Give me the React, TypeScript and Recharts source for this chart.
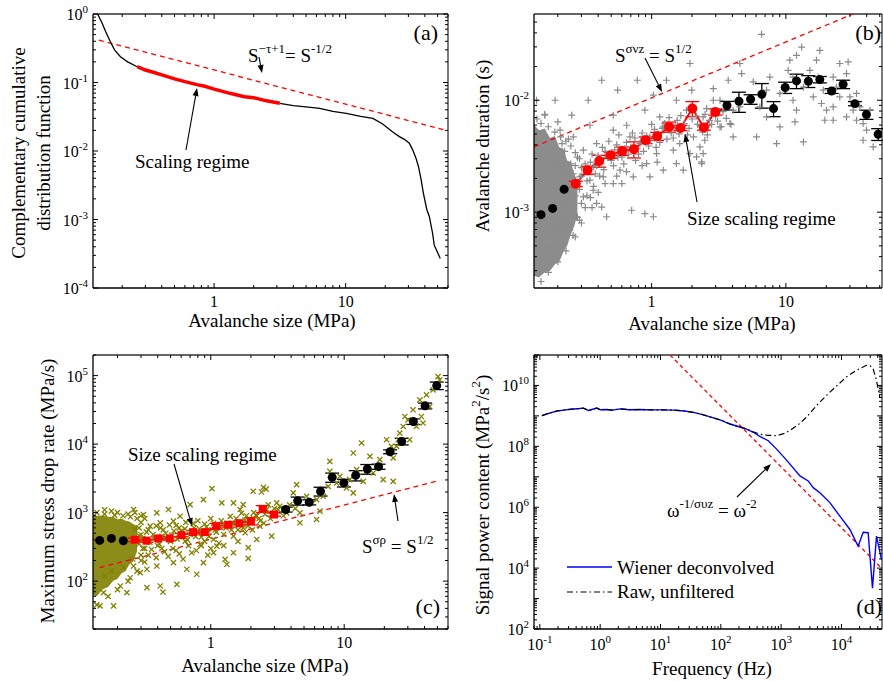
import React from 'react';
import { ComposedChart, Line, Scatter, Area, XAxis, YAxis, ErrorBar, ReferenceLine } from 'recharts';

const FONT = 'Times New Roman, Times, Liberation Serif, serif';

// ---------- (a) complementary cumulative distribution ----------
const ccdfHeadX = [0.13, 0.14, 0.15, 0.163, 0.175, 0.194, 0.22, 0.26];
const ccdfHeadY = [1.0, 0.75, 0.55, 0.39, 0.3, 0.238, 0.2, 0.17];
const ccdfScaleX = [0.26, 0.3, 0.35, 0.4, 0.5, 0.6, 0.74, 0.85, 1.0, 1.32, 1.7, 2.0, 2.5, 3.16];
const ccdfScaleY = [0.17, 0.152, 0.14, 0.129, 0.113, 0.103, 0.093, 0.088, 0.08, 0.0695, 0.062, 0.06, 0.054, 0.0497];
const ccdfTailX = [3.16, 4, 5, 6.35, 8, 10.1, 13, 16.1, 19, 22.8, 25.6, 28, 30.5, 32.4, 34.3, 35.8, 37.5, 39, 41.4, 43.3, 45.8, 47.2, 50, 52.4];
const ccdfTailY = [0.0497, 0.046, 0.044, 0.042, 0.038, 0.0355, 0.032, 0.03, 0.025, 0.019, 0.0162, 0.0148, 0.013, 0.0103, 0.0078, 0.0059, 0.0038, 0.0024, 0.0014, 0.0011, 6.3e-4, 4.2e-4, 3.3e-4, 2.7e-4];
const fitAX = [0.133, 59];
const fitAY = [0.417, 0.0199];

// ---------- (b) avalanche duration ----------
const scaleBX = [0.272, 0.333, 0.407, 0.495, 0.604, 0.738, 0.902, 1.1, 1.35, 1.64, 2.01, 2.45, 2.98];
const scaleBY = [1.79e-3, 2.37e-3, 2.87e-3, 3.23e-3, 3.52e-3, 3.65e-3, 4.4e-3, 4.77e-3, 5.78e-3, 5.66e-3, 8.43e-3, 5.7e-3, 7.87e-3];
const scaleBErr = [1e-4, 2e-4, 3.5e-4, 2e-4, 3e-4, 6e-4, 3e-4, 4e-4, 6e-4, 3e-4, 1.3e-3, 3e-4, 5e-4];
const binBX = [0.15, 0.183, 0.223, 3.64, 4.47, 5.46, 6.62, 8.09, 9.88, 12.0, 14.7, 17.9, 21.9, 26.7, 32.7, 39.8, 48.7];
const binBY = [9.5e-4, 1.08e-3, 1.6e-3, 8.97e-3, 9.8e-3, 1.02e-2, 1.13e-2, 8.43e-3, 1.3e-2, 1.49e-2, 1.48e-2, 1.53e-2, 1.21e-2, 1.39e-2, 9.33e-3, 7.45e-3, 4.97e-3];
const binBErr = [0, 0, 0, 8e-4, 2e-3, 1e-3, 2.8e-3, 1.3e-3, 1.5e-3, 2.2e-3, 1.8e-3, 1e-3, 6e-4, 1.2e-3, 4e-4, 7e-4, 6e-4];
const fitBX = [0.133, 52];
const fitBY = [3.83e-3, 0.0757];
const blobBX = [0.133, 0.145, 0.16, 0.175, 0.19, 0.205, 0.22, 0.235, 0.25, 0.265, 0.28];
const blobBLo = [2.7e-4, 2.6e-4, 2.9e-4, 3.0e-4, 3.4e-4, 3.6e-4, 4.4e-4, 5.0e-4, 6.3e-4, 7.5e-4, 9.5e-4];
const blobBHi = [6.0e-3, 5.4e-3, 5.6e-3, 4.6e-3, 4.8e-3, 3.8e-3, 3.7e-3, 2.9e-3, 2.8e-3, 2.2e-3, 1.9e-3];
const crossBLow = [
  [0.425, 0.0151], [0.782, 0.0151], [0.558, 0.0123], [1.29, 0.0151], [1.93, 0.0213], [1.03, 0.0111], [1.99, 0.0123], [0.337, 0.01], [0.191, 0.01], [0.139, 0.01],
  [0.16, 0.00735], [0.254, 0.00735], [0.518, 0.00735], [0.891, 0.00815], [1.53, 0.01], [1.82, 0.00815], [0.347, 0.00598], [0.652, 0.00598], [1.15, 0.0071], [2.42, 0.0071],
  [0.69, 0.0047], [1.62, 0.0041], [2.29, 0.00383], [2.36, 0.00281], [0.71, 0.00104], [0.891, 0.00097], [1.03, 0.00091], [0.425, 0.00111], [0.367, 0.00157], [0.518, 0.0018],
  [1.22, 0.00237], [1.53, 0.00272], [0.918, 0.00272], [0.581, 0.00237], [0.436, 0.00207], [0.31, 0.00137], [0.276, 0.00091], [0.246, 0.00069], [0.22, 0.00053], [0.196, 0.0004],
  [0.147, 0.0003], [0.971, 0.0047], [1.22, 0.00578], [0.49, 0.00312], [0.367, 0.00254], [0.31, 0.00358], [0.389, 0.0041], [0.261, 0.0047], [0.208, 0.0054], [0.615, 0.00358],
  [0.818, 0.0041], [1.45, 0.00358], [1.93, 0.00334], [1.09, 0.00334], [0.518, 0.0054], [0.73, 0.00207], [0.971, 0.00207], [1.72, 0.00237], [2.16, 0.00312], [2.57, 0.00578],
  [0.462, 0.00091], [0.389, 0.0012], [0.347, 0.00193], [0.292, 0.00207],
  [0.3, 0.0025], [0.35, 0.0028], [0.4, 0.0032], [0.45, 0.0035], [0.5, 0.0029], [0.55, 0.004], [0.6, 0.0031], [0.65, 0.0042], [0.7, 0.0038], [0.75, 0.0046],
  [0.8, 0.0033], [0.85, 0.0051], [0.95, 0.0039], [1.05, 0.0055], [1.15, 0.0042], [1.25, 0.0062], [1.4, 0.0051], [1.55, 0.0066], [1.7, 0.0058], [1.85, 0.0049],
  [2.0, 0.0068], [2.2, 0.0061], [2.4, 0.0052], [2.7, 0.0066], [3.0, 0.0072], [3.4, 0.0079], [0.28, 0.0031], [0.33, 0.0019], [0.38, 0.0022], [0.42, 0.0027],
  [0.27, 0.0014], [0.3, 0.0012],
  [0.14, 0.0068], [0.15, 0.0062], [0.17, 0.0058], [0.19, 0.0052], [0.21, 0.0047], [0.23, 0.0043], [0.25, 0.0039], [0.27, 0.0034], [0.29, 0.003], [0.16, 0.0075],
  [0.2, 0.0064], [0.15, 2.4e-4], [0.17, 2.9e-4], [0.2, 3.6e-4], [0.23, 4.5e-4], [0.26, 6.2e-4], [0.29, 8.5e-4], [0.32, 1.1e-3], [0.35, 1.35e-3],
];
const crossBMid = [
  [0.26, 0.0022], [0.28, 0.0018], [0.3, 0.0021], [0.32, 0.0027], [0.34, 0.0024], [0.36, 0.0033], [0.37, 0.0017], [0.39, 0.0026], [0.41, 0.0021], [0.43, 0.0038],
  [0.44, 0.0024], [0.47, 0.0031], [0.48, 0.0043], [0.52, 0.0026], [0.53, 0.0036], [0.56, 0.0031], [0.57, 0.0049], [0.62, 0.0027], [0.63, 0.0037], [0.67, 0.0033],
  [0.72, 0.0051], [0.76, 0.0029], [0.78, 0.0037], [0.83, 0.0043], [0.87, 0.0035], [0.92, 0.0048], [0.98, 0.0044], [1.0, 0.0061], [1.08, 0.0038], [1.12, 0.005],
  [1.2, 0.0056], [1.3, 0.0045], [1.35, 0.007], [1.45, 0.0046], [1.5, 0.0058], [1.6, 0.005], [1.65, 0.0073], [1.75, 0.0062], [1.9, 0.0056], [2.05, 0.0047],
  [2.15, 0.0072], [2.3, 0.0058], [2.5, 0.0075], [2.6, 0.0049], [2.8, 0.0061], [3.1, 0.0065], [3.3, 0.0058], [3.6, 0.0069], [3.9, 0.0061], [0.24, 0.0013],
  [0.26, 0.0011], [0.28, 0.0009], [0.33, 0.0014], [0.36, 0.0011], [0.4, 0.0015], [0.45, 0.0018], [0.55, 0.0021], [0.6, 0.0018], [0.65, 0.0023], [0.85, 0.0026],
  [1.1, 0.0028], [0.2, 0.0029], [0.22, 0.0024], [0.24, 0.0021], [0.21, 0.0011], [0.23, 0.0008], [0.25, 0.0017], [0.19, 0.0007], [0.17, 0.0005],
  [0.27, 0.0026], [0.29, 0.0016], [0.3, 0.0008], [0.27, 0.0006], [0.25, 0.0027], [0.225, 0.0035], [0.215, 0.0041], [0.24, 0.0045],
];
const crossBHigh = [
  [6.59, 0.0388], [4.54, 0.0213], [4.68, 0.0173], [3.72, 0.0151], [2.88, 0.0127], [2.88, 0.01], [2.57, 0.00843], [3.23, 0.01], [4.05, 0.00815], [4.3, 0.01],
  [4.54, 0.00871], [3.83, 0.00619], [3.23, 0.00578], [4.05, 0.0047], [6.05, 0.0047], [5.71, 0.0146], [7.18, 0.0123], [7.6, 0.0161], [6.4, 0.00871], [7.18, 0.0071],
  [9.02, 0.0115], [9.02, 0.00578], [8.53, 0.0041], [10.7, 0.0228], [10.4, 0.0185], [11.3, 0.0161], [13.1, 0.0299], [12.0, 0.0252], [13.5, 0.0131], [11.3, 0.01],
  [12.0, 0.00815], [11.7, 0.0064], [13.5, 0.00424], [15.1, 0.0185], [16.9, 0.0228], [17.9, 0.0279], [17.4, 0.0161], [19.0, 0.0123], [16.0, 0.0107], [18.4, 0.00935],
  [20.1, 0.00815], [22.5, 0.0161], [25.2, 0.0213], [29.1, 0.022], [28.3, 0.0173], [23.8, 0.0131], [25.2, 0.0107], [22.5, 0.00871], [28.3, 0.0071], [30.0, 0.0107],
  [33.6, 0.0115], [31.7, 0.00815], [35.6, 0.00871], [33.6, 0.00663], [37.6, 0.00619], [39.9, 0.0054], [37.6, 0.00439], [44.7, 0.00383], [42.3, 0.00815], [22.5, 0.00663],
  [19.5, 0.00663], [2.42, 0.00334], [2.36, 0.00272], [2.49, 0.00439],
];

// ---------- (c) maximum stress drop rate ----------
const scaleCX = [0.27, 0.33, 0.404, 0.493, 0.603, 0.738, 0.902, 1.1, 1.35, 1.64, 2.0, 2.45, 2.98];
const scaleCY = [402, 389, 420, 420, 469, 519, 519, 635, 664, 701, 750, 1135, 938];
const scaleCErr = [25, 20, 20, 25, 25, 30, 35, 60, 50, 40, 90, 130, 50];
const binCX = [0.147, 0.18, 0.221, 3.64, 4.48, 5.47, 6.65, 8.13, 9.95, 12.2, 14.9, 18.1, 22.1, 27.0, 33.0, 40.4, 49.4];
const binCY = [393, 420, 389, 1109, 1486, 1416, 2046, 3273, 2716, 3500, 4335, 4688, 7745, 10940, 21380, 36200, 71500];
const binCErr = [0, 0, 0, 90, 200, 120, 300, 500, 350, 600, 700, 400, 500, 1200, 2000, 3500, 9000];
const fitCX = [0.147, 52];
const fitCY = [157, 2950];
const blobCX = [0.131, 0.14, 0.155, 0.17, 0.185, 0.2, 0.215, 0.23, 0.245, 0.26, 0.28];
const blobCLo = [62, 60, 76, 82, 100, 108, 130, 140, 175, 190, 270];
const blobCHi = [940, 900, 910, 860, 870, 800, 820, 760, 740, 690, 640];
const crossCLow = [
  [0.148, 43.5], [0.187, 43.5], [0.157, 68], [0.21, 84.9], [0.249, 112], [0.296, 133], [0.332, 80.4], [0.418, 84.9], [0.438, 69.3], [0.557, 89.8],
  [0.235, 68], [0.264, 166], [0.332, 149], [0.394, 166], [0.525, 186], [0.661, 149], [0.785, 126], [0.881, 186], [1.05, 260], [1.11, 324],
  [1.28, 208], [1.32, 176], [1.48, 260], [1.91, 308], [1.91, 215], [2.21, 406], [2.34, 634], [2.86, 453], [2.62, 1110], [2.48, 2340],
  [2.08, 2050], [1.66, 1110], [1.48, 1390], [1.21, 1390], [1.02, 2240], [0.881, 1550], [0.7, 1310], [0.589, 887], [0.525, 750], [0.418, 711],
  [0.351, 634], [0.313, 938], [0.394, 993], [0.482, 1110], [0.264, 1110], [0.643, 384], [0.832, 344], [1.05, 406], [1.48, 453], [1.81, 508],
  [2.08, 840], [1.75, 1310],
  [0.3, 480], [0.34, 560], [0.38, 430], [0.42, 600], [0.46, 500], [0.5, 380], [0.55, 650], [0.6, 540], [0.65, 720], [0.7, 480],
  [0.75, 600], [0.8, 760], [0.85, 440], [0.9, 680], [0.95, 560], [1.0, 820], [1.1, 520], [1.2, 760], [1.3, 600], [1.4, 880],
  [1.5, 700], [1.6, 560], [1.7, 980], [1.8, 780], [1.9, 640], [2.1, 1000], [2.3, 820], [2.5, 700], [2.7, 1300], [3.0, 1150],
  [0.29, 350], [0.32, 300], [0.36, 290], [0.4, 330], [0.45, 270], [0.52, 300], [0.58, 250], [0.68, 330], [0.78, 280], [0.9, 380],
  [1.0, 300], [1.15, 360], [2.6, 2200], [2.4, 2000],
  [0.14, 1000], [0.16, 950], [0.19, 920], [0.22, 900], [0.25, 870], [0.28, 820], [0.14, 45], [0.17, 60], [0.2, 75], [0.24, 100],
  [0.28, 140], [0.32, 190],
];
const crossCMid = [
  [0.31, 420], [0.33, 520], [0.35, 370], [0.37, 480], [0.39, 640], [0.41, 350], [0.43, 450], [0.44, 560], [0.47, 420], [0.49, 660],
  [0.51, 470], [0.53, 540], [0.56, 410], [0.58, 600], [0.62, 470], [0.64, 580], [0.67, 400], [0.72, 530], [0.74, 690], [0.77, 450],
  [0.82, 580], [0.87, 500], [0.93, 620], [0.97, 450], [1.05, 700], [1.08, 560], [1.17, 620], [1.25, 480], [1.33, 700], [1.43, 560],
  [1.55, 820], [1.62, 650], [1.75, 600], [1.85, 900], [1.95, 720], [2.05, 560], [2.2, 900], [2.35, 760], [2.55, 950], [2.8, 820],
  [3.2, 1100], [3.5, 900], [3.9, 1300], [4.3, 1150], [0.34, 240], [0.39, 220], [0.43, 300], [0.48, 230], [0.55, 280], [0.62, 210],
  [0.72, 260], [0.85, 330], [0.95, 240], [1.25, 330], [1.6, 380], [0.16, 1100], [0.18, 1050], [0.2, 1000], [0.24, 950], [0.27, 1000],
  [0.3, 900], [0.16, 120], [0.18, 140], [0.22, 160], [0.26, 210], [0.3, 240],
  [0.29, 600], [0.3, 720], [0.31, 300], [0.3, 200], [0.29, 460], [0.27, 560], [0.32, 820],
];
const crossCHigh = [
  [3.3, 1240], [3.12, 1390], [3.71, 993], [4.15, 1940], [4.4, 2560], [4.66, 993], [5.23, 1730], [6.21, 1550], [6.58, 1050], [7.81, 5600],
  [7.81, 4010], [7.59, 2420], [8.77, 2710], [9.29, 3390], [10.4, 2300], [11.0, 3030], [11.7, 1940], [13.5, 10400], [11.7, 7420], [12.4, 4240],
  [13.9, 2860], [15.6, 6620], [16.5, 3790], [18.5, 5930], [20.8, 11600], [19.6, 3030], [23.3, 6280], [24.7, 9270], [26.1, 14500], [27.7, 18100],
  [31.0, 11600], [28.5, 25300], [32.8, 31700], [34.8, 18100], [36.9, 44300], [37.9, 25300], [41.4, 52400], [43.8, 35400], [46.4, 61900], [50.5, 96600],
  [52.0, 86500], [39.0, 20300], [30.1, 22600], [25.4, 11600], [22.6, 9270], [14.7, 4010], [17.5, 4730], [6.97, 1730], [6.21, 794], [4.66, 711],
  [23.3, 2860],
];

// ---------- (d) power spectrum ----------
const lowF = [0.108, 0.13, 0.16, 0.192, 0.25, 0.32, 0.42, 0.53, 0.64, 0.75, 0.88, 1.0, 1.29, 1.6, 2.15, 3, 4.6, 7, 10, 16.4, 25, 35, 50, 75, 100, 142, 200, 268];
const lowP = [1.02e9, 1.15e9, 1.3e9, 1.45e9, 1.55e9, 1.65e9, 1.72e9, 1.8e9, 1.5e9, 1.65e9, 1.8e9, 1.6e9, 1.62e9, 1.55e9, 1.7e9, 1.6e9, 1.62e9, 1.58e9, 1.57e9, 1.55e9, 1.45e9, 1.3e9, 1.1e9, 8.6e8, 7.3e8, 5.4e8, 4.4e8, 3.7e8];
const wienerHighF = [345, 450, 612, 842, 1100, 1400, 2050, 2810, 3400, 4390, 6420, 9410, 13800, 18900, 22900, 27700, 32700, 38100, 46100];
const wienerHighP = [2.9e8, 2.1e8, 1.53e8, 8.1e7, 4.5e7, 2.6e7, 1.07e7, 7.3e6, 4.4e6, 3.0e6, 1.42e6, 5.1e5, 1.86e5, 5.2e4, 1.5e5, 1.45e5, 2.2e3, 1.12e5, 1.9e4];
const rawHighF = [345, 446, 600, 842, 1100, 1400, 2000, 2640, 3870, 5660, 8000, 12100, 18000, 26000, 30000, 33500, 38000, 43200];
const rawHighP = [3.0e8, 2.5e8, 2.3e8, 2.24e8, 2.6e8, 3.3e8, 5.5e8, 9.1e8, 2.2e9, 4.7e9, 9e9, 1.9e10, 3.2e10, 4.6e10, 4.4e10, 3.5e10, 1.5e10, 4.1e9];
const fitDX = [14.4, 46100];
const fitDY = [1e11, 1.0e4];

// ---------- helpers ----------
const zip = (xs: number[], ys: number[]) => xs.map((x, i) => ({ x, y: ys[i] }));
const zipErr = (xs: number[], ys: number[], es: number[]) => xs.map((x, i) => ({ x, y: ys[i], err: es[i] }));
const pairs = (ps: number[][]) => ps.map(([x, y]) => ({ x, y }));
const band = (xs: number[], lo: number[], hi: number[]) => xs.map((x, i) => ({ x, range: [lo[i], hi[i]] }));
const logTicks = (lo: number, hi: number, decades: number[]) =>
  decades.flatMap((d) => [1, 2, 3, 4, 5, 6, 7, 8, 9].map((k) => k * d)).filter((v) => v >= lo * 0.999 && v <= hi * 1.001);

const isMajor = (v: number) => Math.abs(Math.log10(v) - Math.round(Math.log10(v))) < 1e-6;
const expOf = (v: number) => Math.round(Math.log10(v));

const Pow = ({ x, y, e, anchor }: any) => (
  <text x={x} y={y} textAnchor={anchor} style={{ fontFamily: FONT }} fontSize={16} fill="#000">
    10<tspan dy={-7} fontSize={11}>{e}</tspan>
  </text>
);

const xTick = (plotH: number, pow: boolean) => (p: any) => {
  const v = p.payload.value;
  const major = isMajor(v);
  const len = major ? 5 : 3;
  return (
    <g>
      <line x1={p.x} y1={p.y} x2={p.x} y2={p.y - len} stroke="#000" strokeWidth={1} />
      <line x1={p.x} y1={p.y - plotH} x2={p.x} y2={p.y - plotH + len} stroke="#000" strokeWidth={1} />
      {major &&
        (pow ? (
          <Pow x={p.x} y={p.y + 21} e={expOf(v)} anchor="middle" />
        ) : (
          <text x={p.x} y={p.y + 19} textAnchor="middle" style={{ fontFamily: FONT }} fontSize={16} fill="#000">
            {String(v)}
          </text>
        ))}
    </g>
  );
};

const yTick = (plotW: number, every: number) => (p: any) => {
  const v = p.payload.value;
  const major = isMajor(v);
  const e = expOf(v);
  const len = major ? 5 : 3;
  return (
    <g>
      <line x1={p.x} y1={p.y} x2={p.x + len} y2={p.y} stroke="#000" strokeWidth={1} />
      <line x1={p.x + plotW} y1={p.y} x2={p.x + plotW - len} y2={p.y} stroke="#000" strokeWidth={1} />
      {major && e % every === 0 && <Pow x={p.x - 5} y={p.y + 6} e={e} anchor="end" />}
    </g>
  );
};

const PlusShape = (p: any) => (
  <path d={`M${p.cx - 3.5},${p.cy}H${p.cx + 3.5}M${p.cx},${p.cy - 3.5}V${p.cy + 3.5}`} stroke="#8a8a8a" strokeWidth={1.2} fill="none" />
);
const CrossShape = (p: any) => (
  <path
    d={`M${p.cx - 2.6},${p.cy - 2.6}L${p.cx + 2.6},${p.cy + 2.6}M${p.cx - 2.6},${p.cy + 2.6}L${p.cx + 2.6},${p.cy - 2.6}`}
    stroke="#808000"
    strokeWidth={1.3}
    fill="none"
  />
);
const Dot = (p: any) => <circle cx={p.cx} cy={p.cy} r={4.5} fill="#000" />;
const RedSquare = (p: any) => <rect key={p.index} x={p.cx - 4} y={p.cy - 4} width={8} height={8} fill="#ff0000" />;

interface PanelCfg {
  left: number;
  top: number;
  width: number;
  height: number;
  margin: { top: number; right: number; bottom: number; left: number };
  yWidth: number;
  plotW: number;
  plotH: number;
  xDomain: [number, number];
  yDomain: [number, number];
  xTicks: number[];
  yTicks: number[];
  xPow: boolean;
  yEvery: number;
}

function Panel({ cfg, children }: { cfg: PanelCfg; children: React.ReactNode }) {
  const axisLine = { stroke: '#000', strokeWidth: 1.3 };
  return (
    <div style={{ position: 'absolute', left: cfg.left, top: cfg.top }}>
      <ComposedChart width={cfg.width} height={cfg.height} margin={cfg.margin}>
        <XAxis
          dataKey="x"
          type="number"
          scale="log"
          domain={cfg.xDomain}
          allowDataOverflow
          ticks={cfg.xTicks}
          interval={0}
          tickSize={0}
          tickMargin={0}
          tickLine={false}
          tick={xTick(cfg.plotH, cfg.xPow)}
          axisLine={axisLine}
          height={30}
        />
        <YAxis
          dataKey="y"
          type="number"
          scale="log"
          domain={cfg.yDomain}
          allowDataOverflow
          ticks={cfg.yTicks}
          interval={0}
          tickSize={0}
          tickMargin={0}
          tickLine={false}
          tick={yTick(cfg.plotW, cfg.yEvery)}
          axisLine={axisLine}
          width={cfg.yWidth}
        />
        <ReferenceLine x={cfg.xDomain[1]} stroke="#333" strokeWidth={1.3} ifOverflow="visible" />
        <ReferenceLine y={cfg.yDomain[1]} stroke="#333" strokeWidth={1.3} ifOverflow="visible" />
        {children}
      </ComposedChart>
    </div>
  );
}

const cfgA: PanelCfg = {
  left: 0, top: 0, width: 460, height: 340,
  margin: { top: 14, right: 12, bottom: 22, left: 0 },
  yWidth: 93, plotW: 355, plotH: 274,
  xDomain: [0.12, 60], yDomain: [1e-4, 1],
  xTicks: logTicks(0.12, 60, [0.1, 1, 10]),
  yTicks: logTicks(1e-4, 1, [1e-4, 1e-3, 1e-2, 1e-1, 1]),
  xPow: false, yEvery: 1,
};
const cfgB: PanelCfg = {
  left: 440, top: 0, width: 443, height: 340,
  margin: { top: 14, right: 1, bottom: 22, left: 0 },
  yWidth: 94, plotW: 348, plotH: 274,
  xDomain: [0.133, 52], yDomain: [2.1e-4, 0.059],
  xTicks: logTicks(0.133, 52, [0.1, 1, 10]),
  yTicks: logTicks(2.1e-4, 0.059, [1e-4, 1e-3, 1e-2]),
  xPow: false, yEvery: 1,
};
const cfgC: PanelCfg = {
  left: 0, top: 340, width: 460, height: 342,
  margin: { top: 15, right: 12, bottom: 23, left: 0 },
  yWidth: 93, plotW: 355, plotH: 274,
  xDomain: [0.131, 60], yDomain: [20, 2e5],
  xTicks: logTicks(0.131, 60, [0.1, 1, 10]),
  yTicks: logTicks(20, 2e5, [10, 100, 1e3, 1e4, 1e5]),
  xPow: false, yEvery: 1,
};
const cfgD: PanelCfg = {
  left: 440, top: 340, width: 443, height: 342,
  margin: { top: 15, right: 1, bottom: 23, left: 0 },
  yWidth: 94, plotW: 348, plotH: 274,
  xDomain: [0.08, 4.7e4], yDomain: [1e2, 1e11],
  xTicks: logTicks(0.08, 4.7e4, [0.01, 0.1, 1, 10, 100, 1e3, 1e4]),
  yTicks: logTicks(1e2, 1e11, [1e2, 1e3, 1e4, 1e5, 1e6, 1e7, 1e8, 1e9, 1e10, 1e11]),
  xPow: true, yEvery: 2,
};

function Arrow({ x1, y1, x2, y2 }: { x1: number; y1: number; x2: number; y2: number }) {
  const a = Math.atan2(y2 - y1, x2 - x1);
  const L = 8;
  const W = 3;
  const bx = x2 - L * Math.cos(a);
  const by = y2 - L * Math.sin(a);
  const pts = `${x2},${y2} ${bx - W * Math.sin(a)},${by + W * Math.cos(a)} ${bx + W * Math.sin(a)},${by - W * Math.cos(a)}`;
  return (
    <g>
      <line x1={x1} y1={y1} x2={bx} y2={by} stroke="#000" strokeWidth={1.1} />
      <polygon points={pts} fill="#000" />
    </g>
  );
}

function Overlay() {
  const t = { style: { fontFamily: FONT }, fontSize: 19, fill: '#000' };
  const rot = (cx: number, cy: number) => ({ transform: `rotate(-90 ${cx} ${cy})`, x: cx, y: cy, textAnchor: 'middle' as const, dominantBaseline: 'central' as const });
  return (
    <svg width={883} height={682} style={{ position: 'absolute', left: 0, top: 0, pointerEvents: 'none', fontFamily: FONT }}>
      {/* panel letters */}
      <text {...t} fontSize={22} x={438} y={40} textAnchor="end">(a)</text>
      <text {...t} fontSize={22} x={881} y={40} textAnchor="end">(b)</text>
      <text {...t} fontSize={22} x={440} y={614} textAnchor="end">(c)</text>
      <text {...t} fontSize={22} x={882} y={614} textAnchor="end">(d)</text>

      {/* axis titles */}
      <text {...t} x={272} y={327} textAnchor="middle">Avalanche size (MPa)</text>
      <text {...t} x={712} y={330} textAnchor="middle">Avalanche size (MPa)</text>
      <text {...t} x={265} y={672} textAnchor="middle">Avalanche size (MPa)</text>
      <text {...t} x={712} y={675} textAnchor="middle">Frequency (Hz)</text>
      <text {...t} {...rot(18, 153)}>Complementary cumulative</text>
      <text {...t} {...rot(43, 153)}>distribution function</text>
      <text {...t} {...rot(482, 146)}>Avalanche duration (s)</text>
      <text {...t} {...rot(47, 491)}>Maximum stress drop rate (MPa/s)</text>
      <text {...t} {...rot(482, 495)}>
        Signal power content (MPa<tspan dy={-7} fontSize={13}>2</tspan>
        <tspan dy={7}>/s</tspan>
        <tspan dy={-7} fontSize={13}>2</tspan>
        <tspan dy={7}>)</tspan>
      </text>

      {/* (a) annotations */}
      <text {...t} x={248} y={62}>
        S<tspan dy={-9} fontSize={13}>−τ+1</tspan>
        <tspan dy={9}>= S</tspan>
        <tspan dy={-9} fontSize={13}>-1/2</tspan>
      </text>
      <Arrow x1={259} y1={57} x2={262} y2={73} />
      <text {...t} x={135} y={168}>Scaling regime</text>
      <Arrow x1={186} y1={150} x2={197} y2={88} />

      {/* (b) annotations */}
      <text {...t} x={615} y={62}>
        S<tspan dy={-9} fontSize={13}>σνz</tspan>
        <tspan dy={9}> = S</tspan>
        <tspan dy={-9} fontSize={13}>1/2</tspan>
      </text>
      <Arrow x1={645} y1={58} x2={662} y2={92} />
      <text {...t} x={687} y={225}>Size scaling regime</text>
      <Arrow x1={697} y1={202} x2={685} y2={134} />

      {/* (c) annotations */}
      <text {...t} x={128} y={461}>Size scaling regime</text>
      <Arrow x1={174} y1={464} x2={192} y2={526} />
      <text {...t} x={362} y={553}>
        S<tspan dy={-9} fontSize={13}>σρ</tspan>
        <tspan dy={9}> = S</tspan>
        <tspan dy={-9} fontSize={13}>1/2</tspan>
      </text>
      <Arrow x1={398} y1={521} x2={394} y2={494} />

      {/* (d) annotations */}
      <text {...t} x={667} y={517}>
        ω<tspan dy={-9} fontSize={13}>-1/συz</tspan>
        <tspan dy={9}> = ω</tspan>
        <tspan dy={-9} fontSize={13}>-2</tspan>
      </text>
      <Arrow x1={737} y1={497} x2={771} y2={464} />

      {/* (d) legend */}
      <line x1={567} y1={567} x2={612} y2={567} stroke="#0000ff" strokeWidth={1.4} />
      <text {...t} x={617} y={574}>Wiener deconvolved</text>
      <line x1={567} y1={592} x2={612} y2={592} stroke="#000" strokeWidth={1.2} strokeDasharray="6 3 1.5 3" />
      <text {...t} x={617} y={598}>Raw, unfiltered</text>
    </svg>
  );
}

export default function App() {
  return (
    <div style={{ position: 'absolute', left: 0, top: 0, width: 883, height: 682, background: '#fff', overflow: 'hidden', fontFamily: FONT }}>
      <Panel cfg={cfgA}>
        <Line data={zip(fitAX, fitAY)} dataKey="y" stroke="#ff0000" strokeWidth={1.3} strokeDasharray="5 4" dot={false} activeDot={false} isAnimationActive={false} />
        <Line data={zip(ccdfHeadX, ccdfHeadY)} dataKey="y" stroke="#000" strokeWidth={1.3} dot={false} activeDot={false} isAnimationActive={false} />
        <Line data={zip(ccdfTailX, ccdfTailY)} dataKey="y" stroke="#000" strokeWidth={1.3} dot={false} activeDot={false} isAnimationActive={false} />
        <Line data={zip(ccdfScaleX, ccdfScaleY)} dataKey="y" stroke="#ff0000" strokeWidth={3.5} dot={false} activeDot={false} isAnimationActive={false} />
      </Panel>

      <Panel cfg={cfgB}>
        <Area data={band(blobBX, blobBLo, blobBHi)} dataKey="range" type="linear" fill="#8c8c8c" fillOpacity={1} stroke="none" isAnimationActive={false} />
        <Scatter data={pairs(crossBLow)} shape={PlusShape} isAnimationActive={false} />
        <Scatter data={pairs(crossBMid)} shape={PlusShape} isAnimationActive={false} />
        <Scatter data={pairs(crossBHigh)} shape={PlusShape} isAnimationActive={false} />
        <Line data={zip(fitBX, fitBY)} dataKey="y" stroke="#ff0000" strokeWidth={1.3} strokeDasharray="5 4" dot={false} activeDot={false} isAnimationActive={false} />
        <Line
          data={zipErr(scaleBX, scaleBY, scaleBErr)}
          dataKey="y"
          stroke="#ff0000"
          strokeWidth={2}
          dot={{ r: 4, fill: '#ff0000', stroke: '#ff0000' }}
          activeDot={false}
          isAnimationActive={false}
        >
          <ErrorBar dataKey="err" direction="y" width={7} stroke="#ff0000" strokeWidth={1.3} />
        </Line>
        <Scatter data={zipErr(binBX, binBY, binBErr)} shape={Dot} isAnimationActive={false}>
          <ErrorBar dataKey="err" direction="y" width={7} stroke="#000" strokeWidth={1.3} />
        </Scatter>
      </Panel>

      <Panel cfg={cfgC}>
        <Area data={band(blobCX, blobCLo, blobCHi)} dataKey="range" type="linear" fill="#808000" fillOpacity={0.9} stroke="none" isAnimationActive={false} />
        <Scatter data={pairs(crossCLow)} shape={CrossShape} isAnimationActive={false} />
        <Scatter data={pairs(crossCMid)} shape={CrossShape} isAnimationActive={false} />
        <Scatter data={pairs(crossCHigh)} shape={CrossShape} isAnimationActive={false} />
        <Line data={zip(fitCX, fitCY)} dataKey="y" stroke="#ff0000" strokeWidth={1.3} strokeDasharray="5 4" dot={false} activeDot={false} isAnimationActive={false} />
        <Line
          data={zipErr(scaleCX, scaleCY, scaleCErr)}
          dataKey="y"
          stroke="#ff0000"
          strokeWidth={2}
          dot={RedSquare}
          activeDot={false}
          isAnimationActive={false}
        >
          <ErrorBar dataKey="err" direction="y" width={7} stroke="#ff0000" strokeWidth={1.3} />
        </Line>
        <Scatter data={zipErr(binCX, binCY, binCErr)} shape={Dot} isAnimationActive={false}>
          <ErrorBar dataKey="err" direction="y" width={7} stroke="#000" strokeWidth={1.3} />
        </Scatter>
      </Panel>

      <Panel cfg={cfgD}>
        <Line data={zip(fitDX, fitDY)} dataKey="y" stroke="#ff0000" strokeWidth={1.3} strokeDasharray="4 3" dot={false} activeDot={false} isAnimationActive={false} />
        <Line data={zip([...lowF, ...wienerHighF], [...lowP, ...wienerHighP])} dataKey="y" stroke="#0000ff" strokeWidth={1.4} dot={false} activeDot={false} isAnimationActive={false} />
        <Line data={zip([...lowF, ...rawHighF], [...lowP, ...rawHighP])} dataKey="y" stroke="#000" strokeWidth={1.2} strokeDasharray="6 3 1.5 3" dot={false} activeDot={false} isAnimationActive={false} />
      </Panel>

      <Overlay />
    </div>
  );
}
